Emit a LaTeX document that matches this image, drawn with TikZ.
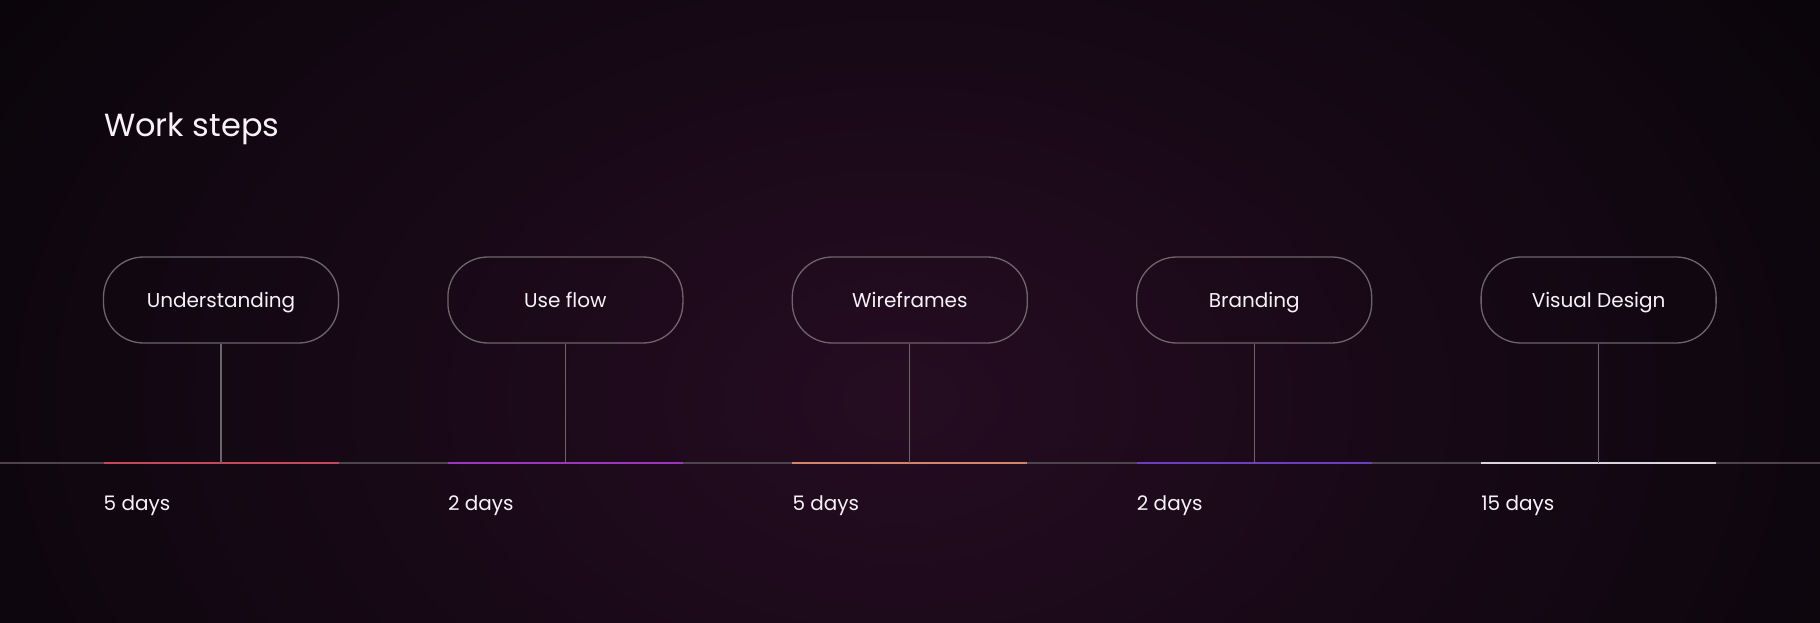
\documentclass[tikz,border=0pt]{standalone}
\usepackage{fontspec}
\setmainfont{Poppins}
\definecolor{bgbase}{HTML}{09050A}
\definecolor{glow}{HTML}{250C22}
\definecolor{pillgray}{HTML}{6E646E}
\definecolor{tlgray}{HTML}{4E444E}
\definecolor{txt}{HTML}{F6F2F6}
\definecolor{cA}{HTML}{C4485C}
\definecolor{cB}{HTML}{9A36B8}
\definecolor{cC}{HTML}{D4846E}
\definecolor{cD}{HTML}{6C40BC}
\definecolor{cE}{HTML}{DCD4DC}
\tikzset{
  pill/.style={draw=pillgray, line width=1.3pt, rounded corners=40pt, minimum width=235pt, minimum height=86pt, inner sep=0pt, text height=14.5pt, text depth=0pt, text=txt, font=\fontsize{20}{24}\selectfont},
  conn/.style={draw=pillgray, line width=1.2pt},
  tline/.style={draw=tlgray, line width=1.2pt},
  segline/.style={line width=2.2pt},
  dayslbl/.style={text=txt, anchor=base west, inner sep=0pt, font=\fontsize{20}{24}\selectfont},
  titlelbl/.style={text=txt, anchor=base west, inner sep=0pt, font=\fontsize{32}{38}\selectfont}
}
\begin{document}
\begin{tikzpicture}[x=1pt,y=-1pt]
\useasboundingbox (0,0) rectangle (1820,623);
\fill[bgbase] (0,0) rectangle (1820,623);
\begin{scope}
\clip (0,0) rectangle (1820,623);
\shade[inner color=glow, outer color=bgbase] (900,400) ellipse (1100 and 760);
\end{scope}
\node[titlelbl] (title) at (104,137) {Work steps};
\coordinate (tl0) at (0,463);
\coordinate (tl1) at (1820,463);
\draw[tline] (tl0) -- (tl1);
\foreach \i/\lbl/\d/\col in {0/Understanding/5 days/cA, 1/Use flow/2 days/cB, 2/Wireframes/5 days/cC, 3/Branding/2 days/cD, 4/Visual Design/15 days/cE}{
  \pgfmathsetmacro{\cx}{221+344.4*\i}
  \node[pill] (p\i) at (\cx,300) {\lbl};
  \coordinate (sa\i) at (\cx-117.5,463);
  \coordinate (sb\i) at (\cx+117.5,463);
  \coordinate (t\i) at (\cx,463);
  \draw[segline, draw=\col] (sa\i) -- (sb\i);
  \draw[conn] (p\i.south) -- (t\i);
  \node[dayslbl] (d\i) at (\cx-117.5,510) {\d};
}
\end{tikzpicture}
\end{document}
